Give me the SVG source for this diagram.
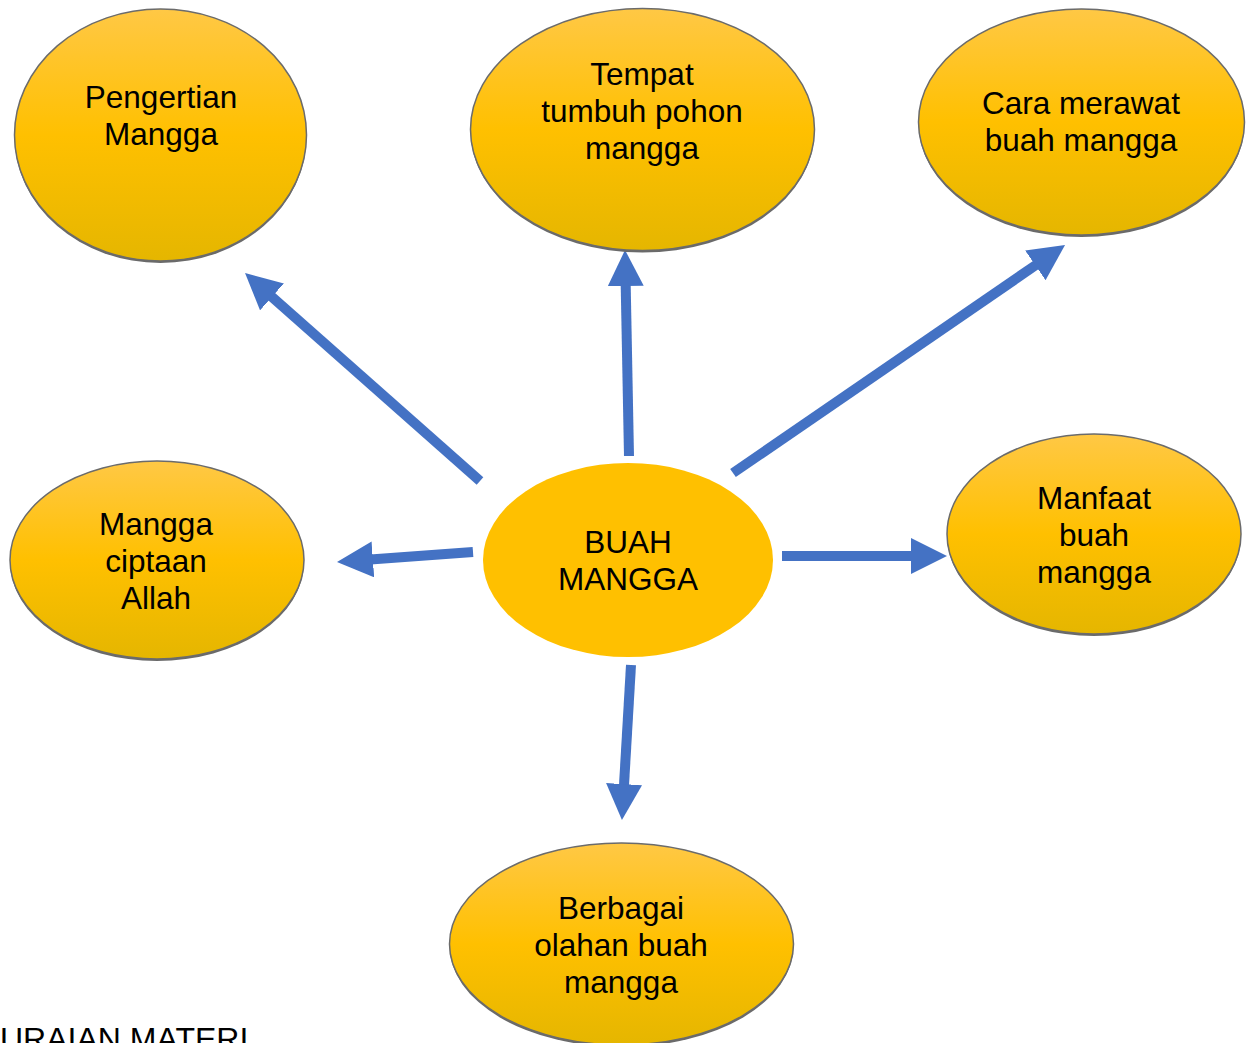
<svg xmlns="http://www.w3.org/2000/svg" width="1254" height="1043" viewBox="0 0 1254 1043">
  <style>
    .lbl { font-family: "Liberation Sans", Arial, sans-serif; font-size: 31.5px; fill: #000; text-anchor: middle; }
    .shadow { fill: #6a6a6a; }
    .bub { fill: url(#gold); stroke: #6b6b6b; stroke-width: 1.5; }
    .center { fill: #FFC000; }
    .conn { stroke: #4472C4; stroke-width: 10; fill: none; marker-end: url(#head); }
  </style>
  <defs>
    <linearGradient id="gold" x1="0" y1="0" x2="0" y2="1">
      <stop offset="0" stop-color="#FFC845"/>
      <stop offset="0.5" stop-color="#FFC000"/>
      <stop offset="1" stop-color="#E5B600"/>
    </linearGradient>
    <marker id="head" markerUnits="userSpaceOnUse" markerWidth="36" markerHeight="36" viewBox="0 0 36 36" refX="6" refY="18" orient="auto">
      <path d="M0,0 L36,18 L0,36 Z" fill="#4472C4"/>
    </marker>
  </defs>
  <rect width="1254" height="1043" fill="#ffffff"/>

  <g id="connectors">
    <line class="conn" x1="480" y1="481" x2="267.5" y2="292.9"/>
    <line class="conn" x1="629" y1="456" x2="625.6" y2="280"/>
    <line class="conn" x1="733" y1="473" x2="1040.3" y2="262"/>
    <line class="conn" x1="473" y1="552" x2="366.9" y2="559.8"/>
    <line class="conn" x1="782" y1="556" x2="917" y2="556"/>
    <line class="conn" x1="631" y1="665" x2="623.7" y2="790.1"/>
  </g>

  <g id="node-pengertian">
    <ellipse class="shadow" cx="160.5" cy="137" rx="146" ry="126"/>
    <ellipse class="bub" cx="160.5" cy="135" rx="146" ry="126"/>
    <text class="lbl" x="161" y="108">Pengertian</text>
    <text class="lbl" x="161" y="145">Mangga</text>
  </g>

  <g id="node-tempat">
    <ellipse class="shadow" cx="642.5" cy="131.5" rx="172" ry="121"/>
    <ellipse class="bub" cx="642.5" cy="129.5" rx="172" ry="121"/>
    <text class="lbl" x="642" y="85">Tempat</text>
    <text class="lbl" x="642" y="122">tumbuh pohon</text>
    <text class="lbl" x="642" y="159">mangga</text>
  </g>

  <g id="node-cara">
    <ellipse class="shadow" cx="1081.5" cy="124" rx="163" ry="113"/>
    <ellipse class="bub" cx="1081.5" cy="122" rx="163" ry="113"/>
    <text class="lbl" x="1081" y="114">Cara merawat</text>
    <text class="lbl" x="1081" y="151">buah mangga</text>
  </g>

  <g id="node-ciptaan">
    <ellipse class="shadow" cx="157" cy="562" rx="147" ry="99"/>
    <ellipse class="bub" cx="157" cy="560" rx="147" ry="99"/>
    <text class="lbl" x="156" y="535">Mangga</text>
    <text class="lbl" x="156" y="572">ciptaan</text>
    <text class="lbl" x="156" y="609">Allah</text>
  </g>

  <g id="node-center">
    <ellipse class="center" cx="628" cy="560" rx="145" ry="97"/>
    <text class="lbl" x="628" y="553">BUAH</text>
    <text class="lbl" x="628" y="590">MANGGA</text>
  </g>

  <g id="node-manfaat">
    <ellipse class="shadow" cx="1094" cy="536" rx="147" ry="100"/>
    <ellipse class="bub" cx="1094" cy="534" rx="147" ry="100"/>
    <text class="lbl" x="1094" y="509">Manfaat</text>
    <text class="lbl" x="1094" y="546">buah</text>
    <text class="lbl" x="1094" y="583">mangga</text>
  </g>

  <g id="node-berbagai">
    <ellipse class="shadow" cx="621.5" cy="946" rx="172" ry="101"/>
    <ellipse class="bub" cx="621.5" cy="944" rx="172" ry="101"/>
    <text class="lbl" x="621" y="919">Berbagai</text>
    <text class="lbl" x="621" y="956">olahan buah</text>
    <text class="lbl" x="621" y="993">mangga</text>
  </g>

  <text id="footer" x="0" y="1050" style="font-family: 'Liberation Sans', Arial, sans-serif; font-size: 32px; fill: #000;">URAIAN MATERI</text>
</svg>
